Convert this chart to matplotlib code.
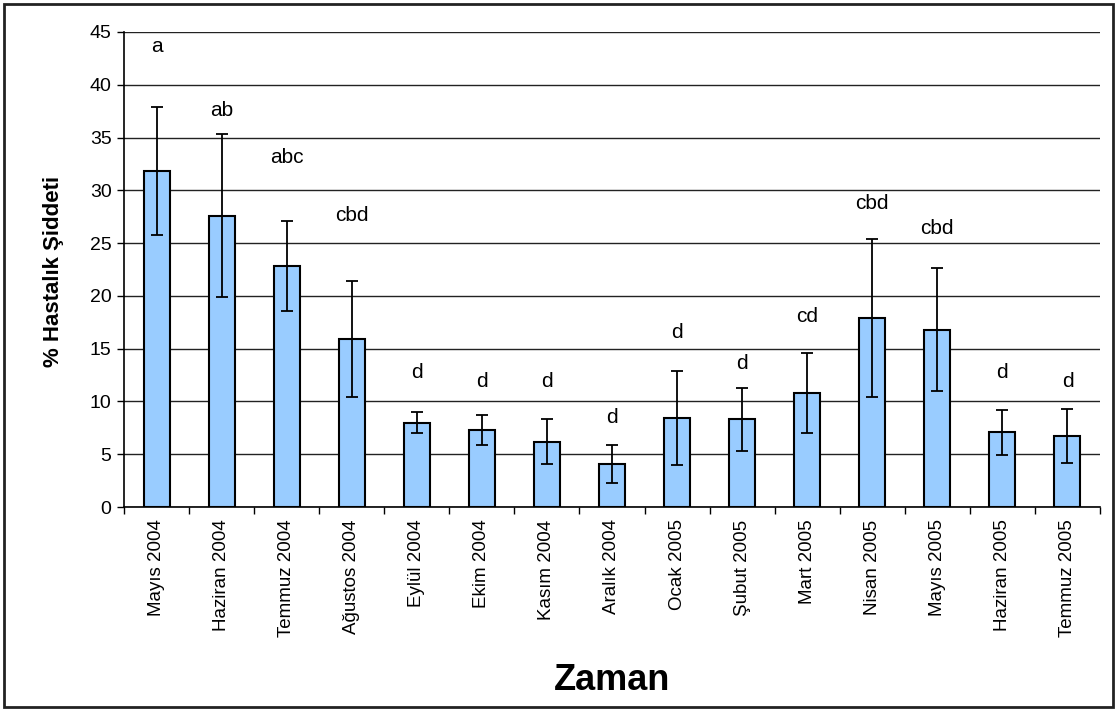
import matplotlib
matplotlib.use("Agg")
import matplotlib.pyplot as plt
from matplotlib.patches import Rectangle

plt.rcParams['font.family'] = ['Liberation Sans', 'DejaVu Sans']

categories = ["Mayıs 2004", "Haziran 2004", "Temmuz 2004", "Ağustos 2004", "Eylül 2004",
              "Ekim 2004", "Kasım 2004", "Aralık 2004", "Ocak 2005", "Şubut 2005",
              "Mart 2005", "Nisan 2005", "Mayıs 2005", "Haziran 2005", "Temmuz 2005"]
means = [31.8, 27.6, 22.8, 15.9, 8.0, 7.3, 6.2, 4.1, 8.4, 8.3, 10.8, 17.9, 16.8, 7.1, 6.7]
errors = [6.05, 7.7, 4.25, 5.5, 1.0, 1.4, 2.1, 1.8, 4.45, 2.95, 3.8, 7.45, 5.8, 2.13, 2.55]
letters = ["a", "ab", "abc", "cbd", "d", "d", "d", "d", "d", "d", "cd", "cbd", "cbd", "d", "d"]
letter_y = [43.6, 37.6, 33.1, 27.6, 12.7, 11.85, 11.85, 8.45, 16.5, 13.6, 18.0, 28.75, 26.4, 12.7, 11.85]

W, H = 1117, 711
fig = plt.figure(figsize=(W / 100, H / 100), dpi=100)
fig.patches.append(Rectangle((4 / W, 4 / H), 1 - 8 / W, 1 - 8 / H, transform=fig.transFigure,
                             fill=False, edgecolor='#222222', linewidth=2))

ax = fig.add_axes([124 / W, 1 - 507 / H, (1100 - 124) / W, (507 - 32) / H])
x = list(range(len(categories)))
ax.bar(x, means, width=0.4, color='#99CCFF', edgecolor='black', linewidth=1.5, zorder=3)
ax.errorbar(x, means, yerr=errors, fmt='none', ecolor='black', elinewidth=1.3,
            capsize=4.3, capthick=1.3, zorder=4)
for xi, lab, ly in zip(x, letters, letter_y):
    ax.text(xi, ly, lab, ha='center', va='center', fontsize=15, zorder=5)

ax.set_xlim(-0.5, len(categories) - 0.5)
ax.set_ylim(0, 45)
ax.set_yticks(range(0, 46, 5))
ax.tick_params(axis='y', labelsize=14, length=5, width=1, direction='out', pad=4)
ax.yaxis.grid(True, color='#222222', linewidth=1)
ax.set_axisbelow(True)

ax.set_xticks([i - 0.5 for i in range(len(categories) + 1)], minor=False)
ax.set_xticklabels([])
ax.set_xticks(x, minor=True)
ax.set_xticklabels(categories, minor=True, rotation=90, fontsize=13.5, va='top')
ax.tick_params(axis='x', which='major', length=5, width=1, direction='out')
ax.tick_params(axis='x', which='minor', length=0, pad=9)

for s in ['top', 'right']:
    ax.spines[s].set_visible(False)
ax.spines['left'].set_linewidth(1.2)
ax.spines['bottom'].set_linewidth(1.2)

fig.text(54 / W, 1 - 271 / H, "% Hastalık Şiddeti", rotation=90, ha='center', va='center',
         fontsize=16, fontweight='bold')
fig.text(612 / W, 1 - 680 / H, "Zaman", ha='center', va='center', fontsize=26, fontweight='bold')

fig.savefig("out.png", dpi=100)
